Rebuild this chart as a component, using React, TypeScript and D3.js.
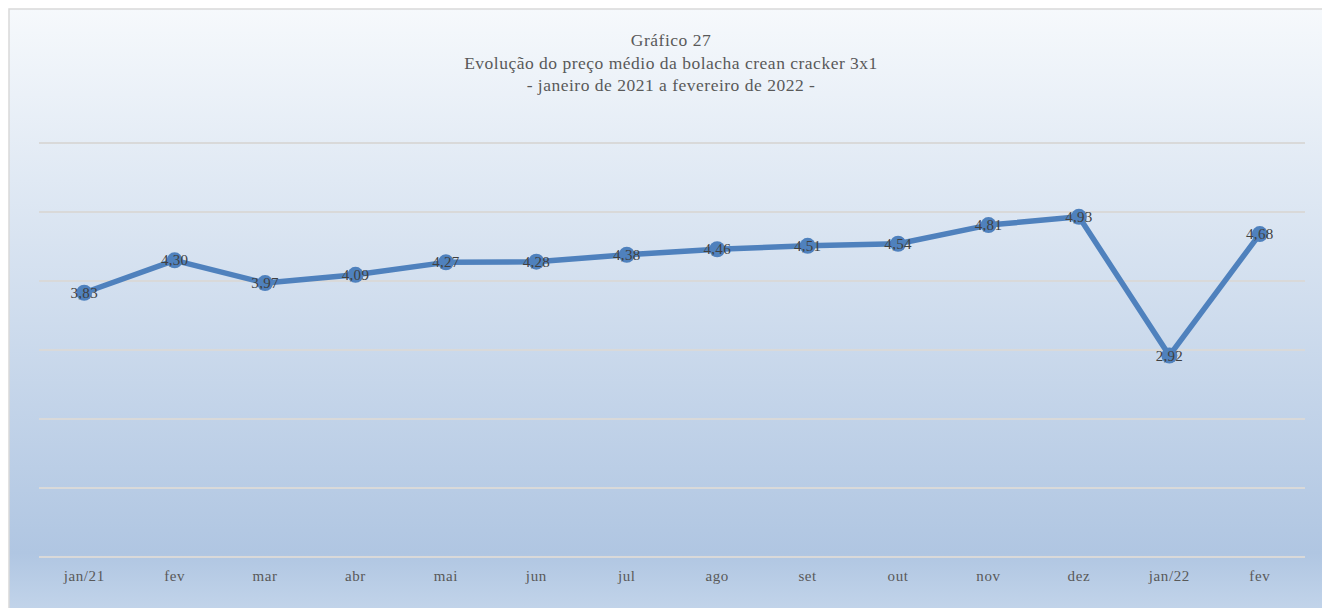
import React from 'react';
import * as d3 from 'd3';

const width = 1322;
const height = 608;

const months = ['jan/21', 'fev', 'mar', 'abr', 'mai', 'jun', 'jul', 'ago', 'set', 'out', 'nov', 'dez', 'jan/22', 'fev'];
const prices = [3.83, 4.30, 3.97, 4.09, 4.27, 4.28, 4.38, 4.46, 4.51, 4.54, 4.81, 4.93, 2.92, 4.68];
const yTicks = [0, 1, 2, 3, 4, 5, 6];
const titleLines = ['Gráfico 27', 'Evolução do preço médio da bolacha crean cracker 3x1', '- janeiro de 2021 a fevereiro de 2022 -'];

const plotLeft = 39;
const plotRight = 1305;
const plotTop = 143;
const plotBottom = 557;

const x = d3.scaleBand<number>()
  .domain(months.map((_, i) => i))
  .range([plotLeft, plotRight]);

const y = d3.scaleLinear()
  .domain([0, 6])
  .range([plotBottom, plotTop]);

const line = d3.line<number>()
  .x((_, i) => x(i)! + x.bandwidth() / 2)
  .y(d => y(d));

const fmt = (v: number) => v.toFixed(2).replace('.', ',');
const font = "'Liberation Serif', 'DejaVu Serif', serif";

export default function App() {
  return (
    <svg width={width} height={height} style={{ position: 'absolute', left: 0, top: 0 }}>
      <defs>
        <linearGradient id="bg" x1="0" y1="0" x2="0" y2="1">
          <stop offset="0" stopColor="#f6f9fc" />
          <stop offset="0.88" stopColor="#b0c6e2" />
          <stop offset="1" stopColor="#c7d8ec" />
        </linearGradient>
      </defs>
      <rect x={9} y={9} width={width + 10} height={height + 10} fill="url(#bg)" stroke="#d9d9d9" strokeWidth={1.5} />
      {titleLines.map((t, i) => (
        <text key={i} x={671} y={46 + i * 22.5} textAnchor="middle" fontFamily={font} fontSize={17.5} letterSpacing={0.5} fill="#595959">{t}</text>
      ))}
      {yTicks.map(t => (
        <line key={t} x1={plotLeft} x2={plotRight} y1={y(t)} y2={y(t)} stroke="#d9d9d9" strokeWidth={2} />
      ))}
      {months.map((m, i) => (
        <text key={i} x={x(i)! + x.bandwidth() / 2} y={581} textAnchor="middle" fontFamily={font} fontSize={15} letterSpacing={0.6} fill="#595959">{m}</text>
      ))}
      <path d={line(prices)!} fill="none" stroke="#4f81bd" strokeWidth={5.5} strokeLinejoin="round" />
      {prices.map((v, i) => (
        <circle key={i} cx={x(i)! + x.bandwidth() / 2} cy={y(v)} r={8} fill="#4f81bd" />
      ))}
      {prices.map((v, i) => (
        <text key={i} x={x(i)! + x.bandwidth() / 2} y={y(v) + 5} textAnchor="middle" fontFamily={font} fontSize={15} letterSpacing={0.3} fill="#404040">{fmt(v)}</text>
      ))}
    </svg>
  );
}
